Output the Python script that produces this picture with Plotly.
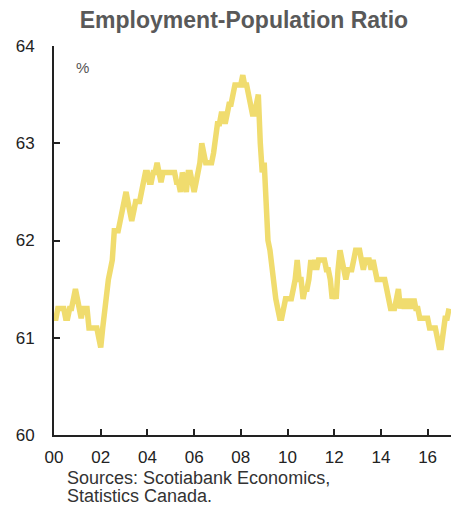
import pandas as pd
import plotly.graph_objects as go

# Monthly employment-population ratio (%), Jan 2000 - Dec 2016
ratio_2000 = [61.2, 61.2, 61.3, 61.3, 61.3, 61.3, 61.2, 61.2, 61.3, 61.3, 61.4, 61.5]
ratio_2001 = [61.4, 61.3, 61.2, 61.3, 61.3, 61.3, 61.1, 61.1, 61.1, 61.1, 61.1, 61.0]
ratio_2002 = [60.9, 61.1, 61.3, 61.4, 61.6, 61.7, 61.8, 62.1, 62.1, 62.1, 62.2, 62.3]
ratio_2003 = [62.4, 62.5, 62.4, 62.3, 62.2, 62.3, 62.4, 62.4, 62.4, 62.5, 62.6, 62.7]
ratio_2004 = [62.7, 62.6, 62.6, 62.7, 62.7, 62.8, 62.7, 62.6, 62.7, 62.7, 62.7, 62.7]
ratio_2005 = [62.7, 62.7, 62.7, 62.6, 62.6, 62.5, 62.7, 62.6, 62.5, 62.7, 62.7, 62.6]
ratio_2006 = [62.5, 62.6, 62.7, 62.8, 63.0, 62.9, 62.8, 62.8, 62.8, 62.8, 62.9, 63.1]
ratio_2007 = [63.2, 63.2, 63.3, 63.3, 63.2, 63.3, 63.4, 63.4, 63.5, 63.6, 63.6, 63.6]
ratio_2008 = [63.6, 63.7, 63.6, 63.6, 63.5, 63.4, 63.3, 63.3, 63.4, 63.5, 63.0, 62.7]
ratio_2009 = [62.8, 62.3, 62.0, 61.9, 61.7, 61.5, 61.4, 61.3, 61.2, 61.2, 61.3, 61.4]
ratio_2010 = [61.4, 61.4, 61.4, 61.5, 61.6, 61.8, 61.6, 61.6, 61.4, 61.5, 61.5, 61.6]
ratio_2011 = [61.8, 61.7, 61.8, 61.7, 61.8, 61.8, 61.8, 61.8, 61.7, 61.7, 61.6, 61.4]
ratio_2012 = [61.5, 61.4, 61.7, 61.9, 61.8, 61.7, 61.6, 61.7, 61.7, 61.7, 61.8, 61.9]
ratio_2013 = [61.9, 61.9, 61.8, 61.7, 61.8, 61.8, 61.8, 61.7, 61.8, 61.7, 61.6, 61.6]
ratio_2014 = [61.6, 61.6, 61.6, 61.5, 61.4, 61.3, 61.3, 61.3, 61.4, 61.5, 61.3, 61.4]
ratio_2015 = [61.3, 61.4, 61.3, 61.4, 61.3, 61.4, 61.3, 61.3, 61.2, 61.2, 61.2, 61.2]
ratio_2016 = [61.2, 61.1, 61.1, 61.1, 61.1, 61.0, 60.9, 60.9, 61.1, 61.2, 61.2, 61.3]

ratio = (ratio_2000 + ratio_2001 + ratio_2002 + ratio_2003 + ratio_2004 + ratio_2005
         + ratio_2006 + ratio_2007 + ratio_2008 + ratio_2009 + ratio_2010 + ratio_2011
         + ratio_2012 + ratio_2013 + ratio_2014 + ratio_2015 + ratio_2016)
months = pd.date_range("2000-01-01", periods=len(ratio), freq="MS")

tick_years = list(range(2000, 2017, 2))
tick_labels = [f"{y % 100:02d}" for y in tick_years]
y_ticks = [60, 61, 62, 63, 64]

source_lines = ["Sources: Scotiabank Economics,", "Statistics Canada."]

FONT = "Liberation Sans, Arial, sans-serif"

fig = go.Figure()
fig.add_trace(go.Scatter(
    x=months, y=ratio, mode="lines",
    line=dict(color="#F0DC6E", width=5.5),
    hoverinfo="skip", showlegend=False,
))

# source note, one annotation per line for tight spacing
source_notes = [
    dict(text=line, xref="paper", yref="paper", x=0.027, y=-0.11 - 0.047 * k,
         xanchor="left", yanchor="middle", align="left", showarrow=False,
         font=dict(family=FONT, size=18, color="#333333"))
    for k, line in enumerate(source_lines)
]

fig.update_layout(
    width=451, height=506,
    margin=dict(l=54, r=0, t=46, b=71),
    paper_bgcolor="white", plot_bgcolor="white",
    font=dict(family=FONT, size=17, color="#222222"),
    title=dict(
        text="<b>Employment-Population Ratio</b>",
        x=0.541, xanchor="center", y=0.96, yanchor="middle",
        font=dict(family=FONT, size=23, color="#595959"),
    ),
    xaxis=dict(
        range=[pd.Timestamp("2000-01-01"), pd.Timestamp("2017-01-01")],
        tickvals=[pd.Timestamp(f"{y}-01-01") for y in tick_years],
        ticktext=tick_labels,
        ticks="inside", ticklen=6, tickwidth=1.5, tickcolor="#222222",
        showline=True, linecolor="#222222", linewidth=2,
        showgrid=False, zeroline=False, ticklabelstandoff=6,
    ),
    yaxis=dict(
        range=[60, 64],
        tickvals=y_ticks,
        ticks="inside", ticklen=6, tickwidth=1.5, tickcolor="#222222",
        showline=True, linecolor="#222222", linewidth=2,
        showgrid=False, zeroline=False, ticklabelstandoff=14,
    ),
    annotations=[
        dict(text="%", xref="paper", yref="paper", x=0.073, y=0.945,
             xanchor="center", yanchor="middle", showarrow=False,
             font=dict(family=FONT, size=15, color="#555555")),
        *source_notes,
    ],
)

fig.write_html("out.html")
